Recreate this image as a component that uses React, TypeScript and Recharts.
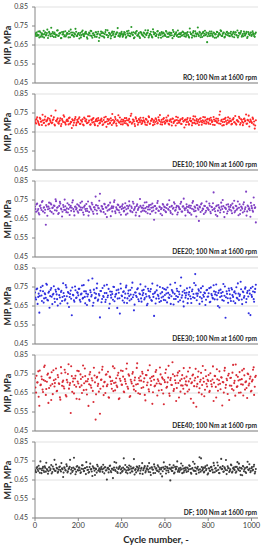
import { ScatterChart, Scatter, XAxis, YAxis, CartesianGrid } from "recharts"

// MIP per cycle. "A" arrays: cycles 0,5,10..1020; "B" arrays: cycles 2,7,12..1017
const roMipA = [
  .712,.698,.705,.721,.690,.716,.703,.694,.725,.708,.700,.713,.687,.719,.706,.741,.697,.709,.715,.692,
  .704,.727,.699,.711,.686,.718,.707,.695,.722,.703,.713,.690,.709,.731,.701,.716,.694,.706,.720,.698,
  .710,.684,.714,.703,.726,.697,.708,.719,.691,.705,.715,.700,.723,.688,.712,.702,.717,.693,.709,.671,
  .706,.721,.696,.712,.689,.718,.704,.727,.699,.710,.685,.715,.703,.720,.694,.708,.716,.697,.711,.702,
  .719,.693,.707,.714,.688,.722,.701,.712,.696,.745,.705,.717,.691,.709,.724,.699,.713,.687,.716,.704,
  .697,.711,.728,.702,.715,.690,.708,.720,.694,.733,.706,.713,.698,.721,.689,.710,.703,.718,.695,.712,
  .705,.724,.692,.709,.716,.700,.713,.686,.719,.704,.710,.698,.726,.707,.693,.714,.701,.717,.696,.711,
  .703,.718,.694,.737,.708,.689,.715,.700,.722,.696,.711,.705,.719,.691,.709,.714,.699,.725,.706,.665,
  .713,.697,.710,.721,.702,.716,.688,.707,.719,.695,.711,.704,.723,.698,.714,.690,.708,.717,.701,.712,
  .696,.720,.706,.713,.691,.717,.703,.726,.699,.710,.715,.694,.708,.721,.700,.712,.687,.718,.705,.714,
  .698,.722,.707,.693,.716,
]
const roMipB = [
  .708,.715,.699,.702,.722,.694,.711,.706,.689,.717,.704,.731,.700,.713,.696,.709,.718,.692,.707,.703,
  .726,.698,.710,.714,.687,.705,.719,.701,.695,.712,.708,.722,.691,.716,.704,.699,.711,.735,.697,.706,
  .713,.702,.690,.720,.707,.696,.715,.709,.683,.704,.712,.725,.698,.710,.701,.693,.717,.706,.720,.688,
  .700,.712,.717,.695,.708,.729,.703,.691,.714,.706,.698,.721,.710,.692,.705,.716,.739,.701,.694,.712,
  .707,.699,.718,.704,.693,.711,.725,.697,.709,.715,.702,.686,.713,.720,.700,.706,.694,.718,.709,.703,
  .716,.691,.705,.712,.727,.699,.708,.703,.690,.719,.711,.697,.706,.724,.702,.713,.688,.709,.715,.700,
  .698,.720,.710,.693,.706,.714,.701,.729,.696,.709,.717,.704,.692,.712,.707,.699,.721,.705,.711,.694,
  .713,.702,.689,.717,.708,.700,.723,.695,.711,.706,.742,.698,.714,.703,.692,.719,.709,.701,.716,.696,
  .707,.721,.699,.710,.694,.713,.705,.689,.718,.702,.711,.727,.697,.708,.715,.693,.704,.720,.710,.698,
  .712,.703,.695,.719,.706,.716,.700,.690,.714,.709,.724,.701,.696,.711,.705,.719,.693,.708,.702,.716,
  .704,.713,.697,.709,
]

const dee10MipA = [
  .713,.695,.728,.702,.687,.719,.706,.741,.698,.715,.684,.709,.724,.693,.711,.735,.700,.717,.689,.763,
  .706,.722,.694,.712,.681,.718,.703,.730,.697,.708,.715,.690,.726,.704,.671,.711,.699,.720,.686,.714,
  .702,.727,.693,.709,.717,.685,.721,.705,.696,.733,.710,.688,.716,.700,.724,.692,.707,.719,.683,.712,
  .698,.714,.705,.691,.726,.703,.677,.718,.709,.695,.722,.687,.713,.701,.729,.694,.710,.738,.699,.706,
  .716,.690,.708,.723,.696,.712,.684,.719,.704,.746,.700,.714,.692,.727,.707,.688,.718,.702,.711,.697,
  .725,.706,.689,.715,.700,.732,.693,.709,.720,.686,.712,.703,.717,.695,.728,.708,.691,.714,.701,.723,
  .694,.711,.705,.736,.689,.716,.702,.721,.697,.708,.684,.713,.726,.699,.710,.693,.719,.706,.674,.715,
  .703,.724,.690,.712,.707,.685,.718,.698,.731,.709,.696,.714,.701,.722,.688,.711,.705,.727,.694,.716,
  .700,.719,.692,.713,.706,.729,.687,.710,.702,.720,.695,.758,.708,.684,.717,.703,.725,.691,.712,.699,
  .721,.707,.693,.716,.701,.734,.689,.711,.704,.723,.697,.714,.686,.718,.706,.742,.695,.710,.679,.715,
  .703,.726,.690,.668,.712,
]
const dee10MipB = [
  .701,.718,.709,.693,.725,.704,.687,.712,.699,.731,.706,.715,.690,.720,.703,.696,.713,.727,.684,.709,
  .716,.697,.705,.722,.692,.710,.738,.701,.689,.714,.707,.723,.694,.702,.717,.685,.711,.729,.698,.706,
  .720,.693,.712,.704,.689,.726,.708,.715,.697,.701,.733,.690,.711,.719,.703,.686,.714,.707,.724,.695,
  .709,.721,.687,.713,.700,.730,.705,.692,.717,.698,.710,.745,.696,.707,.718,.683,.712,.703,.726,.691,
  .704,.714,.697,.708,.723,.690,.711,.701,.735,.694,.716,.706,.681,.720,.709,.699,.713,.725,.692,.707,
  .712,.700,.719,.687,.706,.728,.695,.710,.716,.702,.691,.722,.708,.697,.714,.739,.703,.689,.718,.705,
  .698,.726,.711,.693,.707,.715,.684,.720,.704,.712,.730,.696,.709,.701,.717,.692,.724,.706,.713,.688,
  .715,.703,.690,.722,.709,.698,.733,.711,.694,.718,.705,.687,.720,.707,.700,.729,.696,.712,.704,.719,
  .694,.711,.725,.702,.688,.716,.707,.721,.699,.710,.741,.693,.714,.703,.686,.719,.708,.697,.727,.705,
  .709,.690,.716,.723,.701,.695,.712,.706,.730,.689,.717,.704,.699,.721,.710,.693,.714,.736,.702,.708,
  .697,.719,.705,.684,
]

const dee20MipA = [
  .716,.688,.731,.702,.674,.722,.697,.745,.709,.683,.620,.715,.701,.736,.692,.726,.708,.678,.719,.754,
  .694,.712,.681,.740,.705,.663,.724,.698,.717,.686,.733,.703,.671,.719,.709,.748,.690,.714,.700,.727,
  .683,.716,.735,.697,.709,.672,.721,.692,.704,.742,.687,.713,.699,.726,.677,.711,.768,.695,.720,.706,
  .783,.689,.715,.703,.730,.676,.710,.694,.724,.701,.665,.717,.708,.739,.691,.712,.699,.723,.684,.714,
  .702,.728,.690,.711,.673,.720,.706,.743,.695,.716,.686,.731,.704,.669,.719,.697,.712,.755,.688,.709,
  .721,.693,.707,.738,.680,.714,.700,.725,.690,.711,.646,.718,.703,.734,.694,.715,.678,.707,.729,.698,
  .712,.686,.724,.703,.749,.692,.716,.675,.709,.730,.697,.719,.684,.711,.701,.740,.689,.717,.706,.668,
  .727,.696,.713,.682,.720,.704,.744,.691,.710,.663,.722,.699,.716,.687,.733,.705,.676,.718,.693,.709,
  .701,.731,.688,.714,.697,.790,.706,.672,.721,.694,.712,.684,.736,.703,.718,.660,.708,.725,.691,.715,
  .699,.723,.680,.711,.746,.693,.717,.705,.670,.728,.696,.712,.684,.738,.702,.794,.690,.716,.706,.662,
  .719,.695,.763,.708,.632,
]
const dee20MipB = [
  .703,.727,.694,.681,.718,.708,.739,.690,.712,.699,.724,.667,.715,.705,.732,.686,.710,.721,.696,.744,
  .709,.676,.719,.731,.700,.688,.713,.752,.697,.706,.684,.725,.711,.693,.737,.702,.669,.716,.707,.690,
  .722,.698,.710,.742,.684,.714,.703,.729,.692,.668,.717,.705,.735,.689,.712,.700,.723,.678,.708,.746,
  .695,.718,.704,.686,.727,.711,.660,.720,.699,.736,.707,.690,.715,.749,.681,.703,.726,.696,.712,.672,
  .718,.707,.693,.733,.701,.679,.716,.722,.690,.708,.741,.697,.713,.684,.728,.704,.665,.719,.710,.694,
  .705,.737,.688,.714,.700,.723,.676,.709,.731,.695,.718,.683,.706,.745,.692,.712,.701,.670,.725,.715,
  .691,.708,.728,.699,.713,.682,.720,.704,.738,.694,.710,.674,.717,.702,.730,.689,.715,.757,.697,.706,
  .714,.686,.721,.708,.673,.735,.700,.716,.693,.724,.706,.640,.711,.727,.695,.703,.719,.684,.742,.709,
  .698,.720,.680,.712,.733,.702,.691,.717,.665,.724,.708,.697,.715,.750,.687,.710,.703,.679,.728,.701,
  .713,.694,.731,.706,.685,.720,.699,.742,.709,.676,.716,.704,.727,.691,.712,.668,.721,.703,.696,.735,
  .707,.688,.724,.711,
]

const dee30MipA = [
  .721,.684,.742,.698,.615,.730,.705,.756,.668,.717,.693,.762,.679,.726,.702,.745,.660,.714,.688,.735,
  .711,.652,.738,.695,.724,.676,.770,.703,.685,.748,.664,.719,.697,.731,.601,.709,.680,.753,.692,.722,
  .706,.741,.672,.715,.689,.760,.698,.727,.655,.711,.683,.733,.700,.795,.667,.720,.694,.744,.678,.713,
  .590,.729,.687,.703,.757,.671,.718,.696,.740,.662,.708,.725,.683,.750,.699,.714,.640,.736,.691,.767,
  .705,.679,.727,.693,.748,.666,.716,.702,.734,.686,.773,.709,.657,.721,.697,.743,.675,.712,.690,.731,
  .718,.684,.752,.700,.662,.729,.694,.739,.677,.713,.598,.724,.689,.758,.703,.671,.716,.695,.745,.682,
  .708,.736,.669,.719,.692,.763,.701,.727,.658,.714,.687,.741,.698,.725,.680,.800,.706,.673,.733,.694,
  .720,.665,.710,.747,.688,.728,.696,.771,.818,.715,.703,.738,.661,.722,.690,.754,.699,.717,.683,.735,
  .700,.744,.672,.713,.693,.759,.685,.724,.706,.650,.731,.697,.718,.681,.766,.704,.588,.727,.691,.742,
  .712,.676,.737,.698,.722,.665,.749,.689,.715,.703,.778,.684,.726,.694,.741,.670,.719,.700,.733,.602,
  .708,.751,.686,.723,.762,
]
const dee30MipB = [
  .694,.738,.661,.715,.703,.749,.676,.728,.690,.712,.767,.682,.720,.641,.735,.699,.709,.754,.671,.725,
  .686,.742,.707,.663,.730,.697,.718,.679,.760,.701,.724,.645,.713,.688,.747,.706,.672,.733,.695,.719,
  .740,.682,.711,.758,.693,.727,.664,.716,.700,.785,.677,.722,.708,.651,.736,.691,.714,.768,.684,.705,
  .729,.670,.745,.697,.718,.683,.762,.705,.638,.726,.694,.713,.751,.675,.709,.733,.689,.720,.610,.742,
  .701,.724,.668,.715,.757,.690,.731,.679,.710,.746,.696,.627,.721,.704,.738,.685,.716,.764,.673,.707,
  .735,.692,.713,.654,.741,.702,.726,.681,.768,.698,.717,.663,.732,.709,.689,.750,.676,.723,.700,.739,
  .680,.716,.747,.695,.709,.661,.734,.720,.687,.772,.703,.729,.672,.712,.756,.694,.725,.648,.718,.706,
  .743,.688,.723,.701,.666,.737,.713,.692,.759,.680,.715,.730,.697,.744,.674,.708,.721,.655,.733,.699,
  .717,.670,.748,.705,.689,.727,.711,.763,.684,.719,.642,.736,.702,.724,.678,.753,.696,.714,.667,.731,
  .690,.745,.707,.675,.728,.716,.693,.769,.681,.710,.738,.660,.722,.703,.748,.687,.729,.612,.715,.744,
  .698,.726,.672,.740,
]

const dee40MipA = [
  .728,.652,.705,.764,.583,.691,.737,.668,.718,.795,.640,.709,.752,.676,.731,.613,.697,.770,.684,.722,
  .659,.745,.701,.627,.786,.688,.715,.674,.758,.632,.706,.801,.692,.545,.739,.710,.648,.726,.683,.767,
  .700,.617,.748,.690,.734,.665,.779,.711,.642,.724,.696,.760,.678,.716,.603,.742,.510,.731,.687,.657,
  .541,.719,.773,.685,.706,.650,.749,.695,.628,.737,.712,.672,.790,.703,.664,.728,.681,.756,.622,.714,
  .694,.766,.658,.723,.699,.805,.673,.741,.634,.709,.751,.686,.717,.660,.782,.697,.729,.645,.715,.762,
  .680,.727,.611,.744,.705,.669,.796,.692,.735,.654,.720,.689,.771,.637,.713,.700,.748,.666,.725,.591,
  .707,.774,.683,.731,.647,.718,.693,.812,.661,.739,.702,.676,.757,.626,.715,.690,.744,.672,.727,.695,
  .736,.658,.711,.783,.620,.706,.747,.686,.729,.578,.698,.763,.675,.720,.643,.792,.709,.667,.738,.684,
  .713,.655,.754,.696,.721,.608,.740,.682,.775,.662,.717,.699,.733,.584,.706,.768,.677,.725,.645,.751,
  .689,.730,.671,.798,.702,.636,.744,.685,.716,.760,.653,.723,.694,.777,.668,.711,.624,.749,.700,.736,
  .662,.719,.785,.683,.741,
]
const dee40MipB = [
  .679,.741,.706,.630,.768,.694,.722,.655,.787,.713,.671,.746,.598,.730,.689,.759,.644,.717,.702,.779,
  .662,.733,.697,.615,.754,.708,.684,.772,.639,.719,.750,.673,.703,.791,.656,.726,.692,.741,.620,.710,
  .765,.681,.724,.650,.795,.701,.739,.667,.712,.582,.748,.690,.727,.661,.783,.706,.643,.735,.698,.757,
  .672,.721,.788,.639,.709,.746,.686,.762,.625,.733,.697,.714,.660,.780,.705,.689,.743,.618,.725,.768,
  .693,.736,.654,.712,.778,.683,.748,.629,.720,.700,.760,.668,.731,.695,.806,.649,.716,.738,.676,.752,
  .709,.640,.745,.691,.770,.658,.727,.713,.593,.739,.685,.761,.700,.722,.663,.784,.696,.732,.647,.718,
  .755,.678,.706,.793,.635,.729,.692,.749,.671,.717,.608,.742,.703,.766,.657,.724,.689,.781,.646,.711,
  .690,.763,.668,.725,.701,.742,.598,.716,.777,.684,.735,.653,.709,.756,.692,.728,.633,.771,.699,.720,
  .745,.661,.713,.684,.790,.704,.739,.626,.722,.695,.764,.670,.731,.708,.652,.782,.693,.717,.742,.613,
  .729,.688,.757,.664,.714,.800,.682,.735,.651,.720,.696,.769,.637,.743,.707,.676,.753,.690,.725,.658,
  .711,.772,.640,.734,
]

const dfMipA = [
  .703,.691,.718,.697,.710,.748,.686,.712,.700,.722,.694,.707,.683,.716,.701,.729,.692,.709,.756,.698,
  .714,.688,.705,.721,.695,.711,.666,.717,.702,.733,.690,.708,.719,.684,.713,.699,.767,.706,.693,.724,
  .700,.715,.687,.709,.727,.696,.712,.681,.718,.704,.692,.736,.707,.671,.716,.699,.710,.689,.722,.703,
  .694,.713,.706,.730,.685,.717,.701,.711,.690,.724,.697,.709,.660,.715,.703,.741,.692,.708,.719,.686,
  .712,.698,.764,.705,.691,.718,.702,.726,.688,.710,.695,.715,.679,.707,.721,.699,.713,.684,.709,.739,
  .701,.716,.690,.708,.723,.693,.711,.676,.717,.704,.732,.687,.712,.698,.720,.705,.683,.714,.696,.743,
  .709,.684,.718,.700,.711,.648,.715,.697,.728,.689,.706,.720,.694,.712,.703,.737,.686,.710,.699,.716,
  .692,.713,.705,.724,.688,.709,.746,.698,.716,.682,.711,.703,.770,.694,.718,.707,.690,.714,.701,.727,
  .685,.710,.697,.719,.704,.740,.691,.713,.700,.726,.687,.715,.761,.708,.693,.717,.703,.681,.722,.712,
  .698,.731,.689,.711,.706,.719,.694,.744,.702,.715,.677,.709,.724,.696,.713,.687,.718,.705,.733,.691,
  .712,.700,.721,.684,.708,
]
const dfMipB = [
  .697,.713,.705,.725,.688,.709,.701,.719,.692,.714,.741,.703,.696,.717,.708,.684,.721,.706,.699,.731,
  .710,.694,.718,.702,.739,.707,.689,.713,.700,.723,.696,.711,.756,.704,.692,.716,.709,.680,.720,.702,
  .715,.701,.691,.728,.708,.697,.713,.744,.703,.688,.718,.706,.695,.722,.711,.676,.707,.730,.699,.712,
  .704,.720,.693,.710,.717,.700,.652,.714,.706,.726,.691,.709,.703,.745,.698,.715,.687,.711,.722,.705,
  .693,.716,.708,.729,.700,.685,.713,.705,.721,.696,.711,.760,.702,.690,.718,.707,.724,.699,.714,.682,
  .709,.723,.697,.712,.704,.739,.691,.716,.706,.686,.720,.710,.701,.728,.694,.713,.705,.669,.717,.708,
  .721,.700,.712,.691,.730,.707,.698,.715,.684,.719,.709,.748,.702,.693,.714,.706,.725,.690,.711,.703,
  .716,.696,.727,.708,.683,.713,.701,.735,.697,.710,.720,.689,.706,.764,.700,.715,.694,.722,.708,.679,
  .712,.699,.718,.705,.690,.726,.710,.697,.742,.704,.686,.717,.707,.723,.695,.711,.755,.701,.713,.692,
  .706,.728,.694,.715,.703,.688,.719,.709,.736,.698,.713,.675,.721,.705,.692,.716,.746,.702,.710,.697,
  .718,.704,.730,.693,
]

const cyclesA = roMipA.map((_, i) => i * 5)
const cyclesB = roMipB.map((_, i) => i * 5 + 2)
const xTicks = [0, 200, 400, 600, 800, 1000]
const yTicks = [0.45, 0.55, 0.65, 0.75, 0.85]

const panels = [
  { label: "RO; 100 Nm at 1600 rpm", a: roMipA, b: roMipB, color: "#2a9a2a" },
  { label: "DEE10; 100 Nm at 1600 rpm", a: dee10MipA, b: dee10MipB, color: "#ff2828" },
  { label: "DEE20; 100 Nm at 1600 rpm", a: dee20MipA, b: dee20MipB, color: "#8040c4" },
  { label: "DEE30; 100 Nm at 1600 rpm", a: dee30MipA, b: dee30MipB, color: "#2f2fe0" },
  { label: "DEE40; 100 Nm at 1600 rpm", a: dee40MipA, b: dee40MipB, color: "#d92b36" },
  { label: "DF; 100 Nm at 1600 rpm", a: dfMipA, b: dfMipB, color: "#3c3c3c" },
]

const FONT = "Lato, 'Open Sans', sans-serif"
const STEP = 87
const TOP = 7
const PLOT_H = 76
const AXIS = "#868686"

function Panel({ a, b, color, last }: { a: number[]; b: number[]; color: string; last: boolean }) {
  const data = [
    ...a.map((v, i) => ({ cycle: cyclesA[i], mip: v })),
    ...b.map((v, i) => ({ cycle: cyclesB[i], mip: v })),
  ]
  return (
    <ScatterChart
      width={264}
      height={last ? 550 - 5 * STEP : STEP}
      margin={{ top: TOP, right: 6, bottom: 0, left: 0 }}
    >
      <CartesianGrid vertical={false} stroke="#d9d9d9" strokeWidth={0.8} />
      <XAxis
        type="number"
        dataKey="cycle"
        domain={[0, 1030]}
        ticks={xTicks}
        allowDataOverflow
        height={last ? 550 - 5 * STEP - TOP - PLOT_H : 4}
        tick={last ? { fontSize: 7.5, fill: "#404040", fontFamily: FONT } : false}
        tickSize={3}
        tickMargin={2}
        axisLine={{ stroke: AXIS }}
        tickLine={{ stroke: AXIS }}
      />
      <YAxis
        type="number"
        dataKey="mip"
        domain={[0.45, 0.85]}
        ticks={yTicks}
        width={35}
        tickFormatter={(v: number) => v.toFixed(2)}
        tick={{ fontSize: 7, fill: "#404040", fontFamily: FONT }}
        tickSize={3}
        tickMargin={4}
        axisLine={{ stroke: AXIS }}
        tickLine={{ stroke: AXIS }}
      />
      <Scatter
        data={data}
        isAnimationActive={false}
        shape={(p: any) => <circle cx={p.cx} cy={p.cy} r={1.05} fill={color} />}
      />
    </ScatterChart>
  )
}

export default function App() {
  return (
    <div style={{ position: "absolute", left: 0, top: 0, width: 264, height: 550, overflow: "hidden", background: "#fff", fontFamily: FONT }}>
      {panels.map((p, i) => {
        const top = i * STEP
        const last = i === panels.length - 1
        return (
          <div key={p.label} style={{ position: "absolute", left: 0, top }}>
            <Panel a={p.a} b={p.b} color={p.color} last={last} />
            <div
              style={{
                position: "absolute",
                left: 8 - 40,
                top: TOP + PLOT_H / 2 - 6,
                width: 80,
                height: 12,
                lineHeight: "12px",
                textAlign: "center",
                transform: "rotate(-90deg)",
                fontSize: 9,
                fontWeight: 700,
                color: "#262626",
              }}
            >
              MIP, MPa
            </div>
            <div
              style={{
                position: "absolute",
                right: 264 - 257,
                top: TOP + PLOT_H - 10,
                fontSize: 6.6,
                lineHeight: "8px",
                fontWeight: 700,
                color: "#262626",
                whiteSpace: "nowrap",
              }}
            >
              {p.label}
            </div>
          </div>
        )
      })}
      <div
        style={{
          position: "absolute",
          left: 156 - 60,
          top: 534,
          width: 120,
          textAlign: "center",
          fontSize: 9.5,
          lineHeight: "12px",
          fontWeight: 700,
          color: "#262626",
        }}
      >
        Cycle number, -
      </div>
    </div>
  )
}
